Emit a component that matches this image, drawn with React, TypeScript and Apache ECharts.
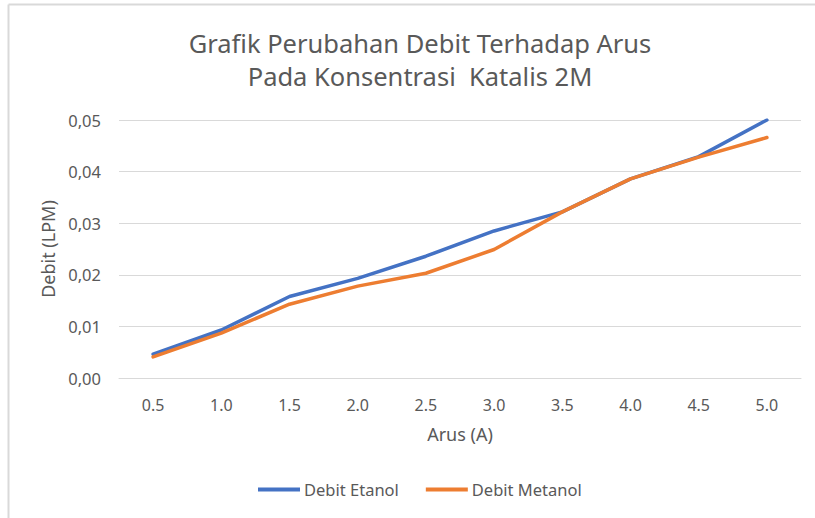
import React, { useEffect, useRef } from "react";
import * as echarts from "echarts";

const categories = ["0.5", "1.0", "1.5", "2.0", "2.5", "3.0", "3.5", "4.0", "4.5", "5.0"];
const debitEtanol = [0.0046, 0.0093, 0.0158, 0.0193, 0.0236, 0.0285, 0.0322, 0.0386, 0.0429, 0.05];
const debitMetanol = [0.0041, 0.0087, 0.0143, 0.0178, 0.0203, 0.0249, 0.0322, 0.0386, 0.0428, 0.0466];
const yTicks = { min: 0, max: 0.05, interval: 0.01 };

const FONT = "'Noto Sans', sans-serif";
const TXT = "#595959";

export default function App() {
  const ref = useRef<HTMLDivElement>(null);
  useEffect(() => {
    if (!ref.current) return;
    const chart = echarts.init(ref.current, null, { renderer: "svg" });
    chart.setOption({
      animation: false,
      backgroundColor: "#ffffff",
      textStyle: { fontFamily: FONT, color: TXT },
      title: {
        text: "Grafik Perubahan Debit Terhadap Arus\nPada Konsentrasi  Katalis 2M",
        left: 415,
        textAlign: "center",
        top: 21,
        textStyle: { fontFamily: FONT, fontSize: 25.5, fontWeight: "normal", color: TXT, lineHeight: 33 },
      },
      graphic: [
        { type: "line", shape: { x1: 8.5, y1: 4.5, x2: 815, y2: 4.5 }, style: { stroke: "#d9d9d9", lineWidth: 2 } },
        { type: "line", shape: { x1: 8.5, y1: 4.5, x2: 8.5, y2: 518 }, style: { stroke: "#d9d9d9", lineWidth: 2 } },
      ],
      grid: { left: 119, right: 14, top: 120, bottom: 140 },
      xAxis: {
        type: "category",
        data: categories,
        boundaryGap: true,
        name: "Arus (A)",
        nameLocation: "middle",
        nameGap: 47,
        nameTextStyle: { fontFamily: FONT, fontSize: 18, color: TXT },
        axisLine: { lineStyle: { color: "#d9d9d9" } },
        axisTick: { show: false },
        axisLabel: { fontFamily: FONT, fontSize: 16, color: TXT, margin: 19 },
      },
      yAxis: {
        type: "value",
        min: yTicks.min,
        max: yTicks.max,
        interval: yTicks.interval,
        name: "Debit (LPM)",
        nameLocation: "middle",
        nameGap: 58,
        nameTextStyle: { fontFamily: FONT, fontSize: 18, color: TXT },
        axisLine: { show: false },
        axisTick: { show: false },
        splitLine: { lineStyle: { color: "#d9d9d9", width: 1 } },
        axisLabel: {
          fontFamily: FONT,
          fontSize: 16.5,
          color: TXT,
          margin: 18,
          formatter: (v: number) => v.toFixed(2).replace(".", ","),
        },
      },
      legend: {
        bottom: 15,
        left: 253,
        itemWidth: 42,
        itemHeight: 4,
        itemGap: 27,
        icon: "rect",
        textStyle: { fontFamily: FONT, fontSize: 16.5, color: TXT, padding: [0, 0, 0, -1] },
        data: ["Debit Etanol", "Debit Metanol"],
      },
      series: [
        {
          name: "Debit Etanol",
          type: "line",
          data: debitEtanol,
          showSymbol: false,
          symbol: "none",
          color: "#4472C4",
          lineStyle: { width: 3.5, color: "#4472C4", cap: "round", join: "round" },
        },
        {
          name: "Debit Metanol",
          type: "line",
          data: debitMetanol,
          showSymbol: false,
          symbol: "none",
          color: "#ED7D31",
          lineStyle: { width: 3.5, color: "#ED7D31", cap: "round", join: "round" },
        },
      ],
    });
    return () => chart.dispose();
  }, []);
  return (
    <div
      ref={ref}
      style={{ position: "fixed", left: 0, top: 0, width: 815, height: 518 }}
    />
  );
}
